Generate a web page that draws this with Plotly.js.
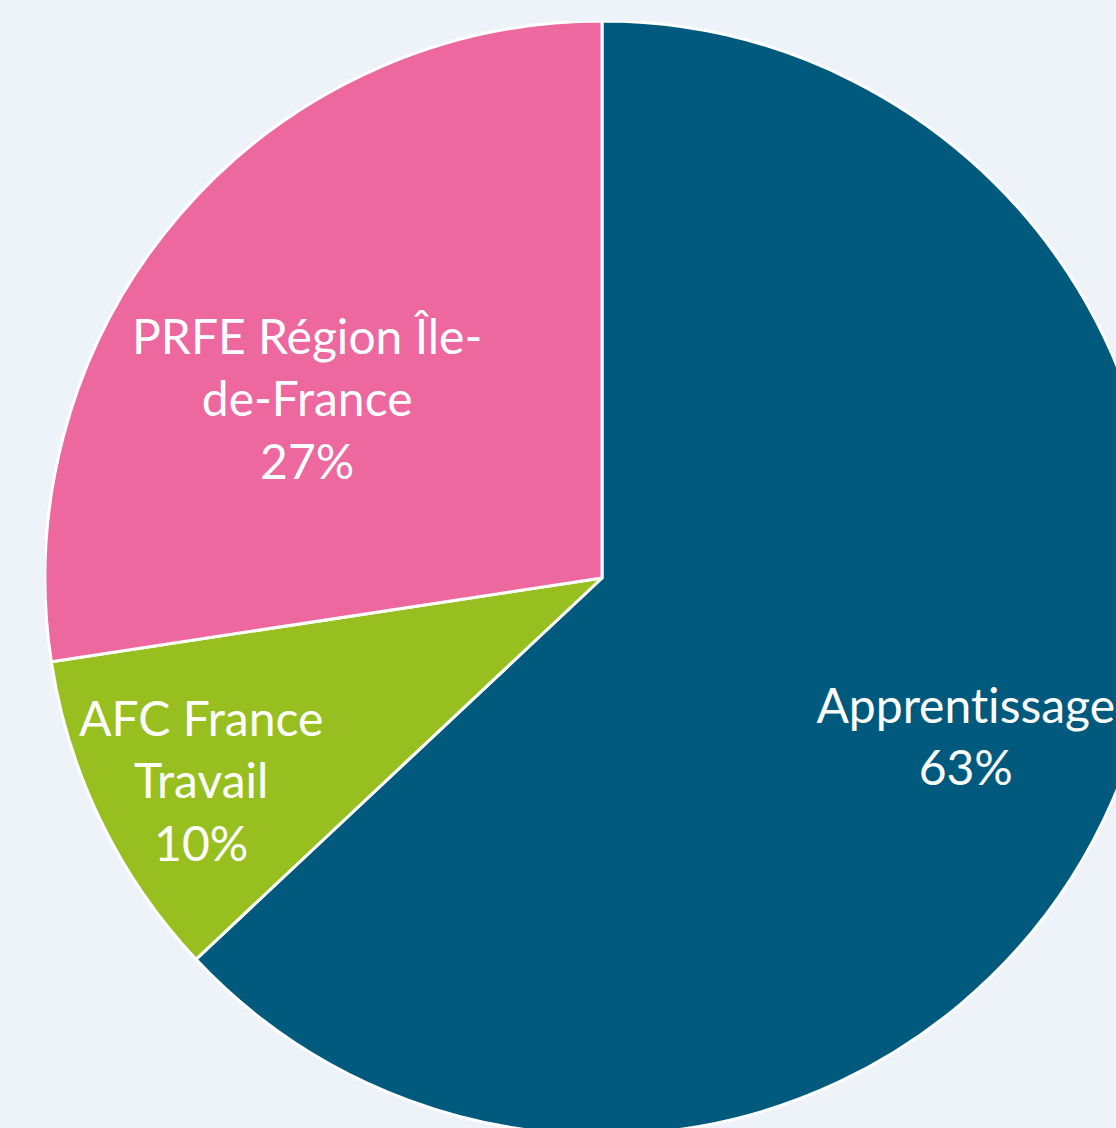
<!DOCTYPE html>
<html>
<head>
<meta charset="utf-8">
<script src="https://cdn.plot.ly/plotly-3.0.1.min.js"></script>
<style>
  html, body { margin: 0; padding: 0; width: 1116px; height: 1128px; overflow: hidden; background: #EEF2F9; }
  #chart { position: absolute; left: 45px; top: 21px; width: 1114px; height: 1114px; }
  #chart text { font-variant-ligatures: none !important; font-feature-settings: "liga" 0, "clig" 0 !important; }
</style>
</head>
<body>
<div id="chart"></div>
<script>
// Data
const categories = ["Apprentissage", "AFC France Travail", "PRFE Région Île-de-France"];
const labelLines = ["Apprentissage", "AFC France<br>Travail", "PRFE Région Île-<br>de-France"];
const values = [63, 9.6, 27.4];
const colors = ["#005A7E", "#97BF1F", "#EC689E"];

// Label placement (layout): angular nudge (deg) from slice middle, radial fraction
const labelAngleNudge = [0, -0.8, -9.3];
const labelRadius = [0.711, 0.806, 0.62];

const total = values.reduce((a, b) => a + b, 0);
const annotations = [];
let cum = 0;
values.forEach((v, i) => {
  const mid = (cum + v / 2) / total * 360 + labelAngleNudge[i];
  cum += v;
  const a = mid * Math.PI / 180;
  const pct = Math.round(v / total * 100) + "%";
  annotations.push({
    xref: "paper", yref: "paper",
    x: 0.5 + 0.5 * labelRadius[i] * Math.sin(a),
    y: 0.5 + 0.5 * labelRadius[i] * Math.cos(a),
    xanchor: "center", yanchor: "middle",
    text: labelLines[i] + "<br>" + pct,
    showarrow: false,
    align: "center",
    font: { family: "Lato, 'Open Sans', sans-serif", size: 48, color: "#FFFFFF" }
  });
});

const trace = {
  type: "pie",
  labels: categories,
  values: values,
  sort: false,
  direction: "clockwise",
  rotation: 0,
  textinfo: "none",
  hoverinfo: "label+percent",
  marker: { colors: colors, line: { color: "#FFFFFF", width: 3 } },
  domain: { x: [0, 1], y: [0, 1] }
};

const layout = {
  width: 1114, height: 1114,
  margin: { l: 0, r: 0, t: 0, b: 0, pad: 0 },
  showlegend: false,
  paper_bgcolor: "#EEF2F9",
  plot_bgcolor: "#EEF2F9",
  annotations: annotations
};

Plotly.newPlot("chart", [trace], layout, { displayModeBar: false, staticPlot: true });
</script>
</body>
</html>
